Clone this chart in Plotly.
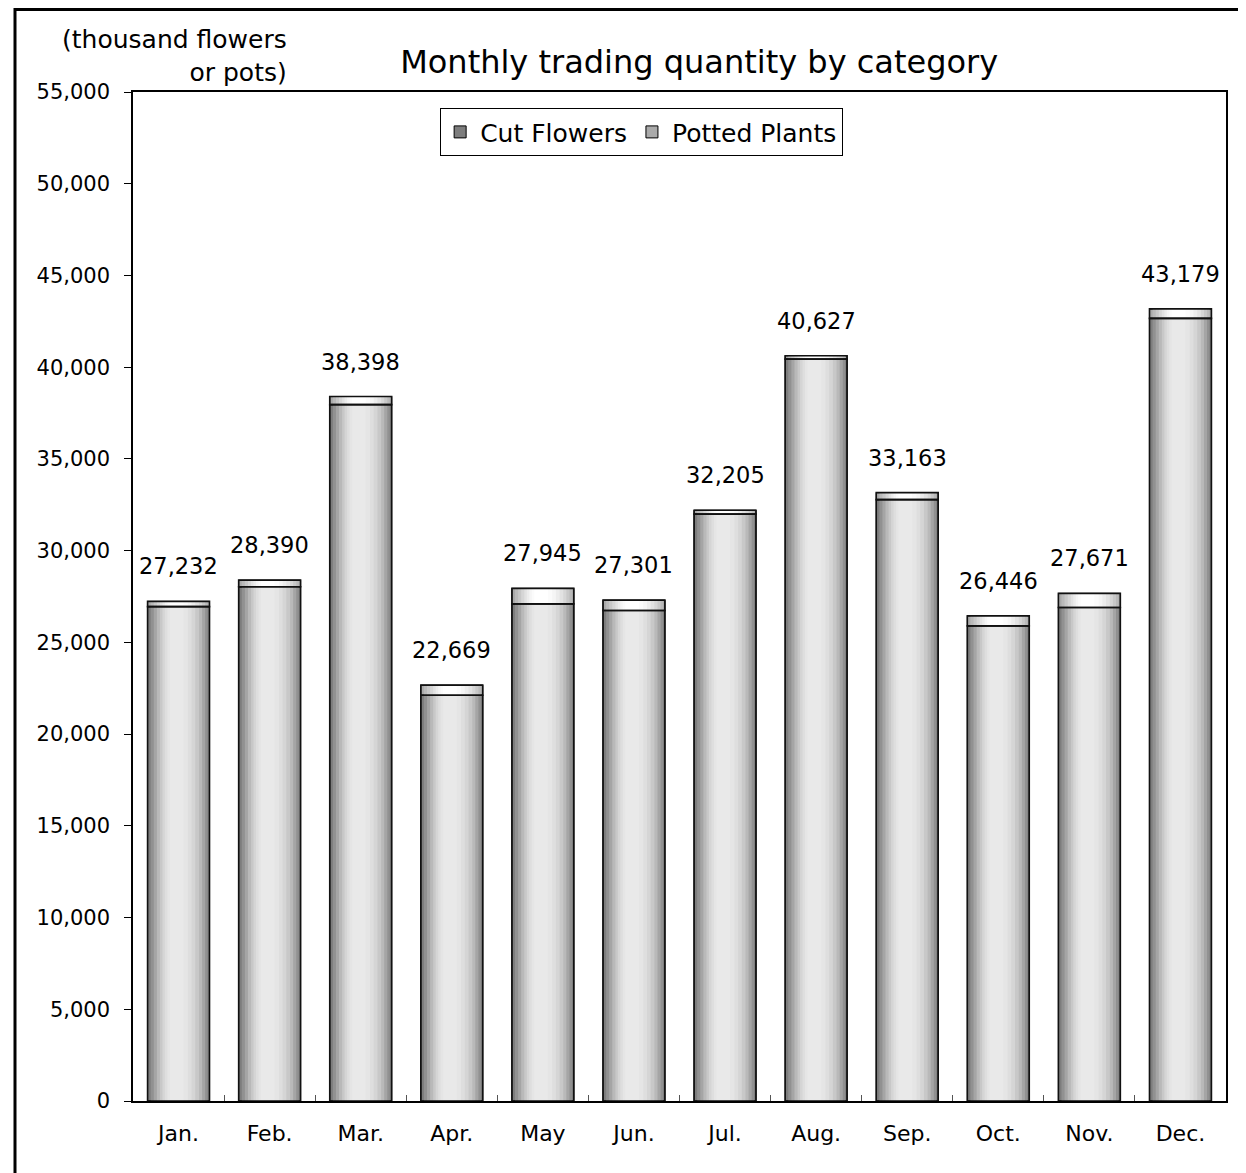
import plotly.graph_objects as go

months = ["Jan.", "Feb.", "Mar.", "Apr.", "May", "Jun.", "Jul.", "Aug.", "Sep.", "Oct.", "Nov.", "Dec."]
totals = [27232, 28390, 38398, 22669, 27945, 27301, 32205, 40627, 33163, 26446, 27671, 43179]
cut_flowers = [26950, 28030, 37960, 22120, 27100, 26740, 31990, 40440, 32780, 25900, 26900, 42660]
potted_plants = [t - c for t, c in zip(totals, cut_flowers)]

FONT = "DejaVu Sans"
BAR_W = 0.68

# gradient bands: (left frac, right frac, cut grey level, potted grey level)
bands = [
    (0.00, 1.00, 125, 170),
    (0.05, 0.97, 145, 186),
    (0.10, 0.93, 165, 200),
    (0.15, 0.88, 185, 214),
    (0.20, 0.83, 200, 226),
    (0.24, 0.77, 213, 236),
    (0.28, 0.71, 222, 245),
    (0.32, 0.65, 229, 251),
    (0.36, 0.58, 233, 255),
]

fig = go.Figure()
for i, (l, r, gc, gp) in enumerate(bands):
    first = i == 0
    off = -BAR_W / 2 + l * BAR_W
    w = (r - l) * BAR_W
    fig.add_trace(go.Bar(
        x=months, y=cut_flowers, width=w, offset=off,
        marker=dict(color=f"rgb({gc},{gc},{gc})", line=dict(width=1 if first else 0, color="black")),
        name="Cut Flowers", showlegend=first, legendgroup="cut", hoverinfo="skip"))
    fig.add_trace(go.Bar(
        x=months, y=potted_plants, base=cut_flowers, width=w, offset=off,
        marker=dict(color=f"rgb({gp},{gp},{gp})", line=dict(width=1 if first else 0, color="black")),
        name="Potted Plants", showlegend=first, legendgroup="pot", hoverinfo="skip"))

# outlines on top
fig.add_trace(go.Bar(x=months, y=cut_flowers, width=BAR_W, offset=-BAR_W / 2,
                     marker=dict(color="rgba(0,0,0,0)", line=dict(width=1.6, color="#111")),
                     showlegend=False, hoverinfo="skip"))
fig.add_trace(go.Bar(x=months, y=potted_plants, base=cut_flowers, width=BAR_W, offset=-BAR_W / 2,
                     marker=dict(color="rgba(0,0,0,0)", line=dict(width=1.6, color="#111")),
                     showlegend=False, hoverinfo="skip"))

annotations = []
for m, t in zip(months, totals):
    annotations.append(dict(x=m, y=t, xref="x", yref="y", text=f"{t:,}", showarrow=False,
                            yanchor="bottom", yshift=20, font=dict(size=22.5, color="black", family=FONT)))
annotations.append(dict(x=0.1427, y=1.068, xref="paper", yref="paper", xanchor="right", yanchor="top",
                        align="right", showarrow=False, text="(thousand flowers<br>or pots)",
                        font=dict(size=25, color="black", family=FONT)))

W, H = 1238, 1165
fig.update_layout(
    width=W, height=H,
    margin=dict(l=125, r=20, t=84, b=72),
    barmode="overlay",
    paper_bgcolor="white", plot_bgcolor="white",
    font=dict(family=FONT, color="black", size=21),
    title=dict(text="Monthly trading quantity by category", x=0.518, xanchor="center",
               y=1 - (62 - 8) / H, yanchor="middle", xref="paper",
               font=dict(size=32, family=FONT, color="black")),
    legend=dict(orientation="h", x=0.281, y=0.984, xanchor="left", yanchor="top",
                bordercolor="black", borderwidth=1, bgcolor="white",
                font=dict(size=25, family=FONT), itemwidth=30, tracegroupgap=0),
    annotations=annotations,
    shapes=[dict(type="rect", xref="paper", yref="paper",
                 x0=(7 - 125) / 1093, x1=(1260 - 125) / 1093,
                 y0=-0.2, y1=1 + (84 - 1.5) / 1009,
                 line=dict(color="black", width=3))],
)
fig.update_xaxes(showline=True, linecolor="black", linewidth=1.5, mirror=True,
                 ticks="inside", tickson="boundaries", ticklen=6, tickcolor="#555",
                 ticklabelstandoff=12, tickfont=dict(size=22, family=FONT))
fig.update_yaxes(range=[0, 55000], dtick=5000, tickformat=",", showgrid=False, zeroline=False,
                 showline=True, linecolor="black", linewidth=1.5, mirror=True,
                 ticks="outside", ticklen=7, tickcolor="black",
                 ticklabelstandoff=10, tickfont=dict(size=21, family=FONT))

fig.write_html("out.html")
